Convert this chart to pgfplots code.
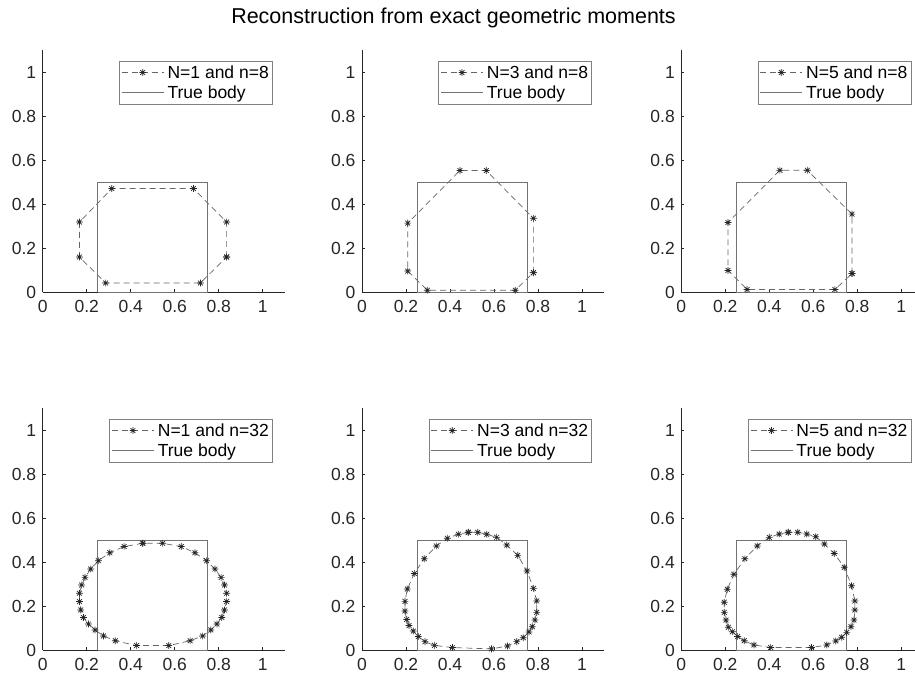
\documentclass[border=0pt]{standalone}
\usepackage{pgfplots}
\pgfplotsset{compat=1.18}
\usepackage{fontspec}
\setmainfont{Liberation Sans}

% MATLAB-like 8-armed asterisk
\pgfdeclareplotmark{mstar}{%
  \pgfpathmoveto{\pgfqpoint{\pgfplotmarksize}{0pt}}%
  \pgfpathlineto{\pgfqpoint{-\pgfplotmarksize}{0pt}}%
  \pgfpathmoveto{\pgfqpoint{0pt}{\pgfplotmarksize}}%
  \pgfpathlineto{\pgfqpoint{0pt}{-\pgfplotmarksize}}%
  \pgfpathmoveto{\pgfqpoint{.707\pgfplotmarksize}{.707\pgfplotmarksize}}%
  \pgfpathlineto{\pgfqpoint{-.707\pgfplotmarksize}{-.707\pgfplotmarksize}}%
  \pgfpathmoveto{\pgfqpoint{.707\pgfplotmarksize}{-.707\pgfplotmarksize}}%
  \pgfpathlineto{\pgfqpoint{-.707\pgfplotmarksize}{.707\pgfplotmarksize}}%
  \pgfusepathqstroke}

\definecolor{axgray}{gray}{0.15}

\pgfplotsset{
  panel/.style={
    scale only axis,
    width=242pt, height=242pt,
    anchor=south west,
    xmin=0, xmax=1.1, ymin=0, ymax=1.1,
    axis x line=bottom, axis y line=left,
    axis line style={-, axgray, line width=0.6pt},
    xtick={0,0.2,0.4,0.6,0.8,1}, ytick={0,0.2,0.4,0.6,0.8,1},
    tick align=inside, major tick length=3pt,
    tick style={axgray, line width=0.6pt},
    ticklabel style={font=\fontsize{17.5}{21}\selectfont, text=axgray},
    xticklabel style={yshift=-5pt},
    yticklabel style={xshift=-3pt},
    /pgf/number format/assume math mode=true,
    legend cell align=left,
    legend style={at={(0.95,0.956)}, anchor=north east,
      draw=black!50, line width=0.6pt, fill=white,
      font=\fontsize{17.5}{21}\selectfont, text=black,
      inner xsep=2pt, inner ysep=3pt, row sep=3pt, column sep=2pt,
      nodes={inner sep=1.5pt}},
    legend image code/.code={%
      \draw[mark repeat=2,mark phase=2,##1] plot coordinates {(0pt,0pt) (21pt,0pt) (42pt,0pt)};},
    clip=false,
  },
  recon/.style={black!60, line width=0.7pt, dash pattern=on 6pt off 4pt,
    mark=mstar, mark size=3.4pt, mark options={solid, black!85, line width=0.7pt}},
  body/.style={black!55, line width=0.8pt},
}

\begin{document}
\begin{tikzpicture}

\node[font=\fontsize{21.5}{25}\selectfont, text=black] at (453.5pt,666pt) {Reconstruction from exact geometric moments};

% ---------- top row (n = 8) ----------
\begin{axis}[panel, at={(42.7pt,392pt)}]
  \addplot[recon] coordinates {(0.836,0.159) (0.836,0.318) (0.685,0.470) (0.314,0.470) (0.167,0.318) (0.167,0.159) (0.286,0.041) (0.717,0.041) (0.836,0.159)};
  \addplot[body] coordinates {(0.25,0) (0.75,0) (0.75,0.5) (0.25,0.5) (0.25,0)};
  \legend{N=1 and n=8, True body}
\end{axis}

\begin{axis}[panel, at={(362pt,392pt)}]
  \addplot[recon] coordinates {(0.779,0.088) (0.779,0.335) (0.565,0.552) (0.445,0.552) (0.208,0.313) (0.208,0.095) (0.297,0.008) (0.697,0.008) (0.779,0.088)};
  \addplot[body] coordinates {(0.25,0) (0.75,0) (0.75,0.5) (0.25,0.5) (0.25,0)};
  \legend{N=3 and n=8, True body}
\end{axis}

\begin{axis}[panel, at={(681.3pt,392pt)}]
  \addplot[recon] coordinates {(0.776,0.084) (0.776,0.354) (0.573,0.553) (0.448,0.553) (0.212,0.316) (0.212,0.098) (0.299,0.011) (0.698,0.011) (0.776,0.084)};
  \addplot[body] coordinates {(0.25,0) (0.75,0) (0.75,0.5) (0.25,0.5) (0.25,0)};
  \legend{N=5 and n=8, True body}
\end{axis}

% ---------- bottom row (n = 32) ----------
\begin{axis}[panel, at={(42.7pt,34pt)}]
  \addplot[recon] coordinates {
    (0.455,0.485) (0.370,0.470) (0.305,0.442) (0.253,0.406) (0.218,0.368) (0.192,0.330) (0.177,0.295) (0.167,0.258)
    (0.167,0.220) (0.173,0.182) (0.185,0.148) (0.208,0.118) (0.238,0.091) (0.276,0.064) (0.330,0.042) (0.427,0.020)
    (0.573,0.020) (0.670,0.042) (0.727,0.064) (0.764,0.091) (0.792,0.118) (0.814,0.148) (0.826,0.182) (0.836,0.220)
    (0.836,0.258) (0.826,0.295) (0.811,0.330) (0.783,0.368) (0.745,0.406) (0.692,0.442) (0.630,0.470) (0.545,0.485)
    (0.455,0.485)};
  \addplot[body] coordinates {(0.25,0) (0.75,0) (0.75,0.5) (0.25,0.5) (0.25,0)};
  \legend{N=1 and n=32, True body}
\end{axis}

\begin{axis}[panel, at={(362pt,34pt)}]
  \addplot[recon] coordinates {
    (0.483,0.535) (0.438,0.526) (0.388,0.508) (0.338,0.473) (0.283,0.415) (0.238,0.348) (0.206,0.277) (0.195,0.221)
    (0.195,0.177) (0.203,0.139) (0.214,0.111) (0.233,0.086) (0.256,0.061) (0.286,0.038) (0.329,0.021) (0.411,0.011)
    (0.589,0.005) (0.661,0.018) (0.703,0.038) (0.733,0.056) (0.759,0.082) (0.774,0.106) (0.786,0.136) (0.794,0.171)
    (0.794,0.223) (0.779,0.280) (0.750,0.359) (0.708,0.430) (0.658,0.477) (0.612,0.512) (0.567,0.526) (0.526,0.535)
    (0.483,0.535)};
  \addplot[body] coordinates {(0.25,0) (0.75,0) (0.75,0.5) (0.25,0.5) (0.25,0)};
  \legend{N=3 and n=32, True body}
\end{axis}

\begin{axis}[panel, at={(681.3pt,34pt)}]
  \addplot[recon] coordinates {
    (0.486,0.535) (0.445,0.527) (0.400,0.512) (0.345,0.473) (0.289,0.415) (0.239,0.344) (0.209,0.276) (0.195,0.217)
    (0.195,0.171) (0.203,0.136) (0.214,0.103) (0.232,0.083) (0.256,0.061) (0.286,0.042) (0.330,0.023) (0.406,0.011)
    (0.592,0.011) (0.661,0.023) (0.702,0.041) (0.729,0.058) (0.752,0.080) (0.771,0.106) (0.785,0.136) (0.789,0.182)
    (0.789,0.223) (0.774,0.292) (0.741,0.376) (0.695,0.439) (0.650,0.482) (0.611,0.515) (0.570,0.527) (0.529,0.535)
    (0.486,0.535)};
  \addplot[body] coordinates {(0.25,0) (0.75,0) (0.75,0.5) (0.25,0.5) (0.25,0)};
  \legend{N=5 and n=32, True body}
\end{axis}

\pgfresetboundingbox
\path[use as bounding box] (0pt,0pt) rectangle (915pt,684pt);
\end{tikzpicture}
\end{document}
